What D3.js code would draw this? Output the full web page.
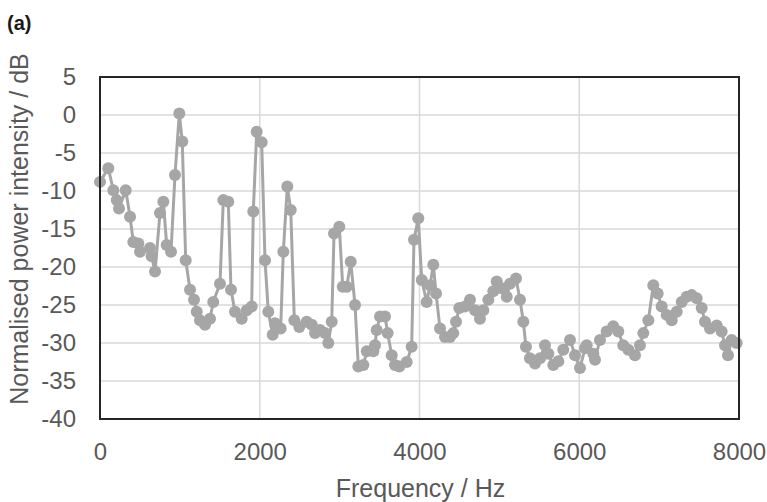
<!DOCTYPE html>
<html>
<head>
<meta charset="utf-8">
<script src="https://cdn.jsdelivr.net/npm/d3@7"></script>
<style>
  body { margin: 0; background: #fff; }
  svg text { font-family: "Liberation Sans", Arial, sans-serif; }
</style>
</head>
<body>
<div id="chart"></div>
<script>
var freqs = [0, 104, 167, 209, 238, 322, 376, 417, 480, 501, 626, 647, 689, 751, 793, 835, 889, 939, 993, 1030,
  1073, 1127, 1177, 1211, 1252, 1315, 1377, 1418, 1502, 1544, 1606, 1640, 1690, 1774, 1837, 1899, 1919, 1962, 2024,
  2066, 2107, 2162, 2191, 2262, 2295, 2345, 2388, 2433, 2495, 2588, 2651, 2692, 2755, 2817, 2858, 2901, 2930, 2996,
  3039, 3089, 3139, 3193, 3234, 3297, 3340, 3422, 3443, 3464, 3506, 3568, 3602, 3652, 3693, 3747, 3840, 3902, 3931,
  3985, 4028, 4090, 4132, 4173, 4207, 4257, 4319, 4382, 4423, 4457, 4498, 4570, 4632, 4695, 4757, 4799, 4862, 4924,
  4967, 5029, 5092, 5133, 5208, 5258, 5300, 5333, 5383, 5446, 5509, 5571, 5613, 5675, 5738, 5800, 5884, 5947, 6009,
  6072, 6093, 6176, 6197, 6259, 6343, 6426, 6489, 6551, 6614, 6698, 6760, 6802, 6865, 6927, 6982, 7032, 7095, 7158,
  7220, 7283, 7345, 7408, 7470, 7533, 7574, 7637, 7721, 7783, 7825, 7862, 7908, 7971];

// normalised power intensity (dB)
var power = [-8.8, -7.0, -9.9, -11.2, -12.3, -9.9, -13.4, -16.7, -16.9, -18.0, -17.5, -18.6, -20.6, -12.9, -11.4, -17.1, -18.0, -7.9, 0.2, -3.5,
  -19.1, -23.0, -24.3, -25.9, -27.0, -27.6, -26.8, -24.6, -22.2, -11.2, -11.4, -23.0, -25.9, -26.8, -25.7, -25.2, -12.7, -2.2, -3.6,
  -19.1, -25.9, -28.9, -27.4, -28.1, -18.0, -9.4, -12.5, -27.0, -27.9, -27.2, -27.6, -28.7, -28.3, -28.7, -30.0, -27.2, -15.6, -14.7,
  -22.6, -22.6, -19.3, -25.0, -33.1, -32.9, -31.1, -31.1, -30.3, -28.3, -26.5, -26.5, -28.7, -31.6, -32.9, -33.1, -32.5, -30.5, -16.4,
  -13.6, -21.7, -24.6, -22.4, -19.7, -23.5, -28.1, -29.2, -29.2, -28.7, -27.2, -25.4, -25.2, -24.3, -25.7, -26.8, -25.7, -24.3, -23.2,
  -21.9, -22.8, -23.9, -22.2, -21.5, -24.3, -27.2, -30.5, -32.0, -32.7, -32.0, -30.3, -31.4, -32.9, -32.4, -30.9, -29.6, -31.6, -33.3,
  -30.7, -30.3, -31.4, -32.2, -29.6, -28.5, -27.8, -28.5, -30.3, -30.9, -31.6, -30.3, -28.7, -27.0, -22.4, -23.5, -25.2, -26.3, -27.0,
  -25.9, -24.6, -23.9, -23.7, -24.1, -25.4, -27.2, -28.1, -27.7, -28.5, -30.3, -31.6, -29.6, -30.0];

var xTicks = [0, 2000, 4000, 6000, 8000];
var yTicks = [5, 0, -5, -10, -15, -20, -25, -30, -35, -40];

var width = 767, height = 502;
var margin = { left: 100, right: 28, top: 77, bottom: 83 };
var plotW = width - margin.left - margin.right,
    plotH = height - margin.top - margin.bottom;

var data = freqs.map(function(f, i) { return { f: f, v: power[i] }; });

// plain labels: no thousands separator, ascii hyphen for minus
var plainFormat = function(d) { return String(d); };

var svg = d3.select("#chart").append("svg")
  .attr("width", width)
  .attr("height", height);

var xScale = d3.scaleLinear().domain([0, 8000]).range([0, plotW]),
    yScale = d3.scaleLinear().domain([-40, 5]).range([plotH, 0]);

var g = svg.append("g")
  .attr("transform", "translate(" + margin.left + "," + margin.top + ")");

// gridlines
g.append("g").selectAll("line").data(yTicks).enter().append("line")
  .attr("x1", 0).attr("x2", plotW)
  .attr("y1", function(d) { return yScale(d); })
  .attr("y2", function(d) { return yScale(d); })
  .attr("stroke", "#d9d9d9").attr("stroke-width", 1.5);

g.append("g").selectAll("line").data(xTicks.slice(1, -1)).enter().append("line")
  .attr("y1", 0).attr("y2", plotH)
  .attr("x1", function(d) { return xScale(d); })
  .attr("x2", function(d) { return xScale(d); })
  .attr("stroke", "#d9d9d9").attr("stroke-width", 1.5);

// x axis labels
var xAxis = g.append("g")
  .attr("transform", "translate(0," + plotH + ")")
  .call(d3.axisBottom(xScale).tickValues(xTicks).tickFormat(plainFormat).tickSize(0).tickPadding(24));
xAxis.select(".domain").remove();
xAxis.selectAll("text")
  .attr("fill", "#595959")
  .style("font-size", "24px")
  .style("font-family", "'Liberation Sans', Arial, sans-serif");

// y axis labels
var yAxis = g.append("g")
  .call(d3.axisLeft(yScale).tickValues(yTicks).tickFormat(plainFormat).tickSize(0).tickPadding(24));
yAxis.select(".domain").remove();
yAxis.selectAll("text")
  .attr("fill", "#595959")
  .style("font-size", "24px")
  .style("font-family", "'Liberation Sans', Arial, sans-serif");

// the line and markers
var valueLine = d3.line()
  .x(function(d) { return xScale(d.f); })
  .y(function(d) { return yScale(d.v); });

g.append("path")
  .datum(data)
  .attr("fill", "none")
  .attr("stroke", "#a6a6a6")
  .attr("stroke-width", 3)
  .attr("d", valueLine);

g.append("g").selectAll("circle").data(data).enter().append("circle")
  .attr("cx", function(d) { return xScale(d.f); })
  .attr("cy", function(d) { return yScale(d.v); })
  .attr("r", 6)
  .attr("fill", "#a6a6a6");

// plot border
g.append("rect")
  .attr("width", plotW).attr("height", plotH)
  .attr("fill", "none")
  .attr("stroke", "#262626")
  .attr("stroke-width", 2);

// axis titles
svg.append("text")
  .attr("x", margin.left + plotW / 2 + 1)
  .attr("y", 497)
  .attr("text-anchor", "middle")
  .attr("fill", "#595959")
  .style("font-size", "25px")
  .text("Frequency / Hz");

svg.append("text")
  .attr("transform", "translate(28," + 229 + ") rotate(-90)")
  .attr("text-anchor", "middle")
  .attr("fill", "#595959")
  .style("font-size", "25px")
  .text("Normalised power intensity / dB");

svg.append("text")
  .attr("x", 7)
  .attr("y", 30)
  .attr("fill", "#1a1a1a")
  .style("font-size", "20px")
  .style("font-weight", "bold")
  .text("(a)");
</script>
</body>
</html>
